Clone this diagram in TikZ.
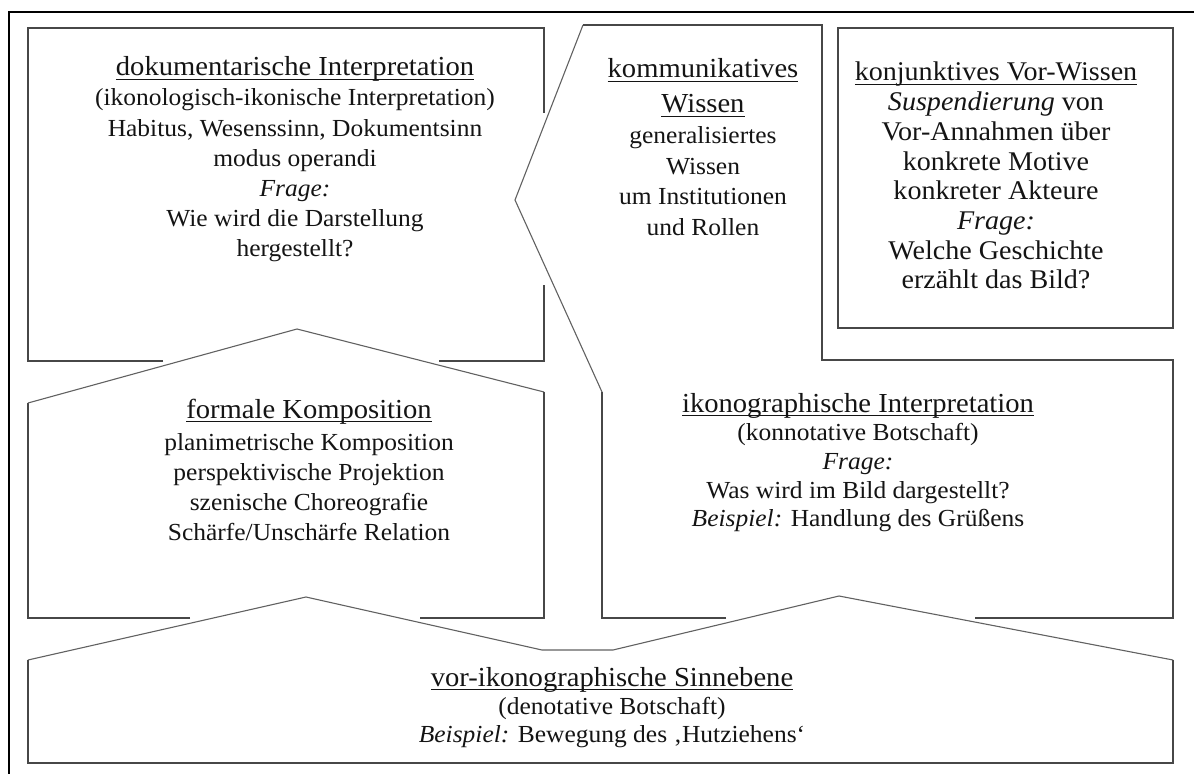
\documentclass[tikz,border=0pt]{standalone}
\usepackage{fontspec}
\setmainfont{Liberation Serif}[FakeStretch=1.04]

% font sizes for the panels
\newcommand{\headsize}{\fontsize{27.5bp}{30bp}\selectfont}
\newcommand{\bodysize}[1]{\fontsize{24.5bp}{#1}\selectfont}
\newcommand{\konjsize}{\fontsize{27bp}{29.7bp}\selectfont}
% heading underline close to the baseline
\newcommand{\headline}[1]{\setbox0\hbox{#1}\rlap{\rule[-0.14em]{\wd0}{0.045em}}\box0}

\tikzset{
  edge/.style={draw=black!72, line width=1.1bp, line join=miter},
  roof/.style={draw=black!62, line width=1.1bp, line join=miter},
  frame/.style={draw=black, line width=2.3bp},
  txt/.style={inner sep=0pt, anchor=base, text=black!92},
}

\begin{document}
\begin{tikzpicture}[x=1bp, y=-1bp]
\useasboundingbox (0,0) rectangle (1194,774);

% outer frame (top and left border)
\draw[frame] (1194,12.3) -- (9.3,12.3) -- (9.3,774);

% dokumentarische Interpretation: box with openings for the neighbouring shapes
\draw[edge] (163,361) -- (28,361) -- (28,28) -- (544,28) -- (544,113);
\draw[edge] (544,285) -- (544,361) -- (439,361);

% kommunikatives Wissen / ikonographische Interpretation
\draw[edge] (726,618) -- (602,618) -- (602,392);
\draw[roof] (602,392) -- (515,200) -- (583,25);
\draw[edge] (583,25) -- (822,25) -- (822,360) -- (1173,360) -- (1173,618) -- (975,618);

% konjunktives Vor-Wissen
\draw[edge] (838,28) rectangle (1173,328);

% formale Komposition (house shape)
\draw[edge] (190,618) -- (28,618) -- (28,403);
\draw[roof] (28,403) -- (297,329) -- (544,392);
\draw[edge] (544,392) -- (544,618) -- (420,618);

% vor-ikonographische Sinnebene (double roof)
\draw[roof] (28,660) -- (306,597) -- (542,650) -- (613,650) -- (839,596) -- (1173,660);
\draw[edge] (1173,660) -- (1173,763) -- (28,763) -- (28,660);

% texts
\node[txt, font=\bodysize{30bp}] (doku) at (295,76) {\begin{tabular}[t]{@{}c@{}}
{\headsize\headline{dokumentarische Interpretation}}\\
(ikonologisch-ikonische Interpretation)\\
Habitus, Wesenssinn, Dokumentsinn\\
modus operandi\\
\textit{Frage:}\\
Wie wird die Darstellung\\
hergestellt?
\end{tabular}};

\node[txt, font=\bodysize{30.5bp}] (komm) at (703,78) {\begin{tabular}[t]{@{}c@{}}
{\headsize\headline{kommunikatives}}\\[4.5bp]
{\headsize\headline{Wissen}}\\
generalisiertes\\
Wissen\\
um Institutionen\\
und Rollen
\end{tabular}};

\node[txt, font=\konjsize] (konj) at (996,81) {\begin{tabular}[t]{@{}c@{}}
\headline{konjunktives Vor-Wissen}\\
\textit{Suspendierung} von\\
Vor-Annahmen über\\
konkrete Motive\\
konkreter Akteure\\
\textit{Frage:}\\
Welche Geschichte\\
erzählt das Bild?
\end{tabular}};

\node[txt, font=\bodysize{30bp}] (form) at (309,418) {\begin{tabular}[t]{@{}c@{}}
{\headsize\headline{formale Komposition}}\\[2bp]
planimetrische Komposition\\
perspektivische Projektion\\
szenische Choreografie\\
Schärfe/Unschärfe Relation
\end{tabular}};

\node[txt, font=\bodysize{28.7bp}] (ikon) at (858,412) {\begin{tabular}[t]{@{}c@{}}
{\headsize\headline{ikonographische Interpretation}}\\
(konnotative Botschaft)\\
\textit{Frage:}\\
Was wird im Bild dargestellt?\\
\textit{Beispiel:} Handlung des Grüßens
\end{tabular}};

\node[txt, font=\bodysize{28bp}] (vor) at (612,686) {\begin{tabular}[t]{@{}c@{}}
{\headsize\headline{vor-ikonographische Sinnebene}}\\
(denotative Botschaft)\\
\textit{Beispiel:} Bewegung des ‚Hutziehens‘
\end{tabular}};
\end{tikzpicture}
\end{document}
